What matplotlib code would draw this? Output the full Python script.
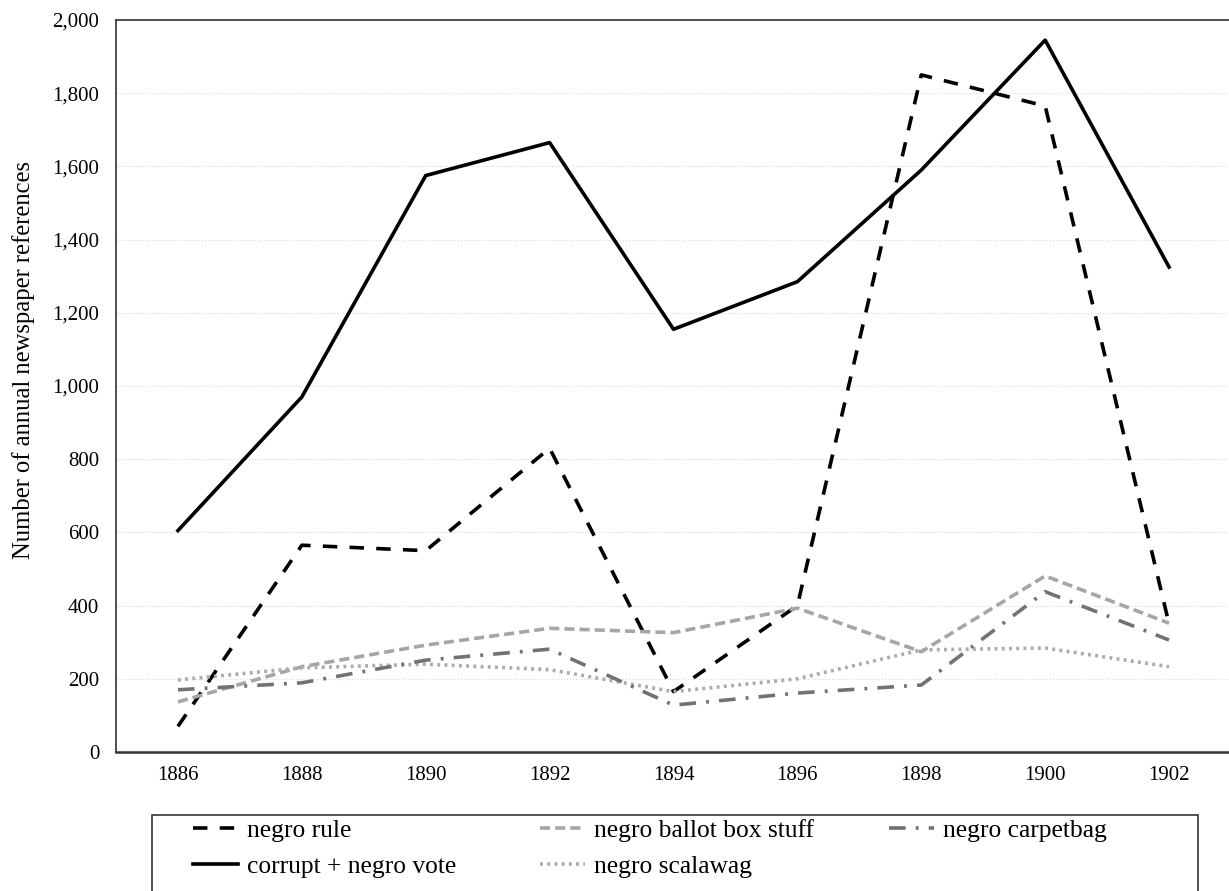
import matplotlib.pyplot as plt
from matplotlib.patches import Rectangle
from matplotlib.ticker import FuncFormatter

years = [1886, 1888, 1890, 1892, 1894, 1896, 1898, 1900, 1902]
negro_rule = [70, 565, 550, 830, 165, 400, 1850, 1765, 350]
corrupt_vote = [605, 970, 1575, 1665, 1155, 1285, 1590, 1945, 1325]
ballot_box = [137, 233, 292, 338, 326, 393, 274, 481, 352]
carpetbag = [170, 189, 251, 281, 128, 161, 183, 438, 306]
scalawag = [197, 230, 240, 225, 165, 200, 279, 284, 233]

plt.rcParams['font.family'] = ['Liberation Serif', 'DejaVu Serif']

W, H = 1229, 891
fig = plt.figure(figsize=(W / 100, H / 100), dpi=100)
ax = fig.add_axes([116 / W, 1 - 752 / H, 1115 / W, 732 / H])

lw = 2.6
l_rule, = ax.plot(years, negro_rule, color='black', lw=lw, dashes=(4, 3.4), label='negro rule')
l_corr, = ax.plot(years, corrupt_vote, color='black', lw=lw, label='corrupt + negro vote')
l_ball, = ax.plot(years, ballot_box, color='#A6A6A6', lw=lw, dashes=(2.8, 1.4), label='negro ballot box stuff')
l_scal, = ax.plot(years, scalawag, color='#ABABAB', lw=lw, dashes=(0.8, 1.2), label='negro scalawag')
l_carp, = ax.plot(years, carpetbag, color='#767171', lw=lw, dashes=(4.6, 2.8, 0.8, 2.8), label='negro carpetbag')

ax.set_ylim(0, 2000)
ax.set_yticks(range(0, 2001, 200))
ax.yaxis.set_major_formatter(FuncFormatter(lambda v, p: f'{int(v):,}'))
ax.set_xlim(1885, 1903)
ax.set_xticks(years)
ax.tick_params(length=0, labelsize=15)
ax.tick_params(axis='y', pad=12)
ax.tick_params(axis='x', pad=10)
ax.grid(axis='y', color='#D9D9D9', linestyle=':', lw=0.8)
ax.set_axisbelow(True)
for s in ax.spines.values():
    s.set_color('#333333')
    s.set_linewidth(1.2)
ax.spines['bottom'].set_linewidth(1.8)

fig.text(24 / W, 1 - 360 / H, 'Number of annual newspaper references', rotation=90,
         ha='center', va='center', fontsize=17.7)

# legend box, runs past the bottom of the picture
fig.patches.append(Rectangle((152 / W, -0.05), (1198 - 152) / W, 0.05 + 1 - 815 / H,
                             transform=fig.transFigure, fill=False, edgecolor='#333333', lw=1.2))

cols = [([l_rule, l_corr], 193), ([l_ball, l_scal], 540), ([l_carp], 889)]
for hs, x in cols:
    fig.legend(handles=hs, loc='upper left', bbox_to_anchor=(x / W, 1 - 819 / H),
               fontsize=18.4, handlelength=1.76, handletextpad=0.35, labelspacing=0.5,
               borderpad=0, borderaxespad=0, frameon=False)

fig.savefig('out.png', dpi=100)
